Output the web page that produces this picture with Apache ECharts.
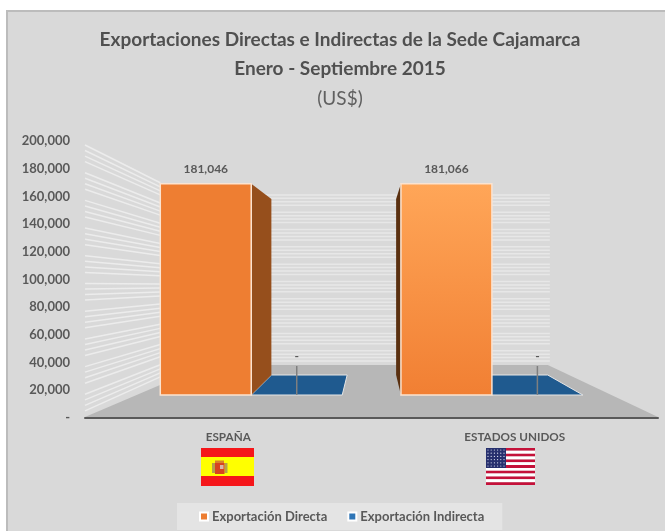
<!DOCTYPE html>
<html>
<head>
<meta charset="utf-8">
<title>Exportaciones Cajamarca</title>
<style>
	html, body { margin: 0; padding: 0; background: #fff; }
	#main { width: 665px; height: 531px; }
</style>
<script src="https://cdn.jsdelivr.net/npm/echarts@6/dist/echarts.min.js"></script>
</head>
<body>
<div id="main"></div>
<script>
var categories = ['ESPAÑA', 'ESTADOS UNIDOS'];
var directa = [181046, 181066];
var indirecta = [0, 0];
var yTicks = [0, 20000, 40000, 60000, 80000, 100000, 120000, 140000, 160000, 180000, 200000];
var wallTicks = [
	200000, 196000, 192000, 188000, 180000, 176000, 172000, 168000,
	160000, 156000, 152000, 148000, 140000, 136000, 132000, 128000,
	120000, 116000, 112000, 108000, 100000, 96000, 92000, 88000,
	80000, 76000, 72000, 68000, 60000, 56000, 52000, 48000,
	40000, 36000, 32000, 28000, 20000, 16000, 12000, 8000
];

var font = 'Lato';
var textColor = '#595959';
var gridBottom = 418;

// planos de profundidad del falso 3D
var barFront = { vx: 372, fx: 0.84, floorY: 395, fy: 0.842 };
var barBack = { vx: 372, fx: 0.70, floorY: 375, fy: 0.702 };
var wallEdge = { vx: 386, fx: 0.75, floorY: 385, fy: 0.73 };
var wallBack = { vx: 386, fx: 0.595, floorY: 368, fy: 0.625 };

function project(p, d) {
	return [d.vx + (p[0] - d.vx) * d.fx, d.floorY - (gridBottom - p[1]) * d.fy];
}

function face(points, style) {
	return { type: 'polygon', shape: { points: points }, style: style };
}

// barra 3D, se dibujan primero las caras laterales
function barRender(slot, sty) {
	return function(params, api) {
		var band = api.size([1, 0])[0];
		var c = api.coord([api.value(0), api.value(1)]);
		var w = band * 0.378;
		var left = c[0] + slot * w;
		var tl = [left, c[1]], tr = [left + w, c[1]];
		var bl = [left, gridBottom], br = [left + w, gridBottom];
		var ftl = project(tl, barFront), ftr = project(tr, barFront);
		var fbl = project(bl, barFront), fbr = project(br, barFront);
		var btl = project(tl, barBack), btr = project(tr, barBack);
		var bbl = project(bl, barBack), bbr = project(br, barBack);
		var idx = params.dataIndex;
		var kids = [];
		if (btr[0] > ftr[0]) {
			kids.push(face([ftr, btr, bbr, fbr], { fill: sty.right }));
		}
		if (btl[0] < ftl[0]) {
			kids.push(face([ftl, btl, bbl, fbl], { fill: sty.left }));
		}
		if (btl[1] < ftl[1]) {
			kids.push(face([ftl, ftr, btr, btl], { fill: sty.top, stroke: sty.edge, lineWidth: 1 }));
		}
		if (fbl[1] > ftl[1]) {
			kids.push({
				type: 'rect',
				shape: { x: ftl[0], y: ftl[1], width: ftr[0] - ftl[0], height: fbl[1] - ftl[1] },
				style: { fill: sty.front[idx], stroke: sty.edge, lineWidth: 1.5 }
			});
		}
		var cx = (ftl[0] + ftr[0]) / 2;
		var val = api.value(1);
		var ly = val === 0 ? ftl[1] - 39 : ftl[1] - 15;
		if (val === 0) {
			kids.push({
				type: 'line',
				shape: { x1: cx, y1: ftl[1] - 29, x2: cx, y2: ftl[1] },
				style: { stroke: '#7f7f7f', lineWidth: 1.5 }
			});
		}
		kids.push({
			type: 'text',
			style: {
				x: cx, y: ly,
				text: val === 0 ? '-' : val.toLocaleString('en-US'),
				fill: textColor,
				font: 'bold 12px ' + font,
				align: 'center',
				verticalAlign: 'middle'
			}
		});
		return { type: 'group', children: kids };
	};
}

function wallRender(params, api) {
	var rect = params.coordSys;
	var y = api.coord([0, api.value(1)])[1];
	var a = [rect.x, y + 4];
	var b = project([rect.x, y], wallEdge);
	var c = project([rect.x, y], wallBack);
	var d = project([rect.x + rect.width, y], wallBack);
	return {
		type: 'group',
		children: [
			{ type: 'line', shape: { x1: a[0], y1: a[1], x2: b[0], y2: b[1] }, style: { stroke: '#ececec', lineWidth: 1.5 } },
			{ type: 'line', shape: { x1: c[0], y1: c[1], x2: d[0] + 2, y2: d[1] }, style: { stroke: '#e7e7e7', lineWidth: 1.5 } }
		]
	};
}

function floorRender(params, api) {
	var rect = params.coordSys;
	var l = rect.x, r = rect.x + rect.width;
	var p1 = project([l, gridBottom], wallBack);
	var p2 = project([r, gridBottom], wallBack);
	return face([[l, gridBottom - 1], [r, gridBottom - 1], [p2[0], p2[1] - 3], [p1[0], p1[1] - 3]], { fill: '#b7b7b7' });
}

// banderas
function spainFlag() {
	var out = [
		{ type: 'rect', shape: { x: 201, y: 448, width: 53, height: 38 }, style: { fill: '#f5161a' } },
		{ type: 'rect', shape: { x: 201, y: 457, width: 53, height: 19 }, style: { fill: '#ffff00' } },
		{ type: 'rect', shape: { x: 212, y: 463, width: 3, height: 10 }, style: { fill: '#b5a24a' } },
		{ type: 'rect', shape: { x: 224.5, y: 463, width: 3, height: 10 }, style: { fill: '#b5a24a' } },
		{ type: 'rect', shape: { x: 215, y: 460.5, width: 9, height: 2.5 }, style: { fill: '#d9822b' } },
		{ type: 'rect', shape: { x: 215, y: 463, width: 9.5, height: 11 }, style: { fill: '#d8431f', borderRadius: [0, 0, 4, 4] } },
		{ type: 'rect', shape: { x: 220, y: 465, width: 3.5, height: 4 }, style: { fill: '#d9b7a8' } }
	];
	return out;
}

function usaFlag() {
	var out = [];
	var sh = 37 / 13;
	for (var i = 0; i < 13; i++) {
		out.push({
			type: 'rect',
			shape: { x: 486, y: 448 + i * sh, width: 49, height: sh },
			style: { fill: i % 2 === 0 ? '#c4123a' : '#ffffff' }
		});
	}
	out.push({ type: 'rect', shape: { x: 486, y: 448, width: 20, height: 20 }, style: { fill: '#27306e' } });
	for (var r = 0; r < 6; r++) {
		for (var c = 0; c < 6; c++) {
			out.push({
				type: 'circle',
				shape: { cx: 488 + c * 3.2, cy: 450 + r * 3.2, r: 0.6 },
				style: { fill: '#dfe3f2' }
			});
		}
	}
	return out;
}

var myChart = echarts.init(document.getElementById('main'));

var option = {
	animation: false,
	backgroundColor: '#ffffff',
	textStyle: { fontFamily: font },
	title: [
		{ text: 'Exportaciones Directas e Indirectas de la Sede Cajamarca', left: 335, top: 35, textAlign: 'center', textVerticalAlign: 'middle', textStyle: { fontFamily: font, fontSize: 19, fontWeight: 'bold', color: '#505050' } },
		{ text: 'Enero - Septiembre 2015', left: 335, top: 64, textAlign: 'center', textVerticalAlign: 'middle', textStyle: { fontFamily: font, fontSize: 19, fontWeight: 'bold', color: '#505050' } },
		{ text: '(US$)', left: 335, top: 94, textAlign: 'center', textVerticalAlign: 'middle', textStyle: { fontFamily: font, fontSize: 19, fontWeight: 'normal', color: '#606060' } }
	],
	legend: {
		left: 177,
		top: 503,
		padding: [7, 18, 7, 22],
		backgroundColor: '#e4e4e4',
		itemWidth: 8,
		itemHeight: 8,
		itemGap: 20,
		icon: 'rect',
		data: ['Exportación Directa', 'Exportación Indirecta'],
		textStyle: { fontFamily: font, fontSize: 13, fontWeight: 'bold', color: textColor, padding: [0, 0, 0, -1] }
	},
	grid: { left: 85, right: 7, top: 141, height: 277 },
	xAxis: {
		type: 'category',
		data: categories,
		axisLine: { lineStyle: { color: '#595959', width: 2 } },
		axisTick: { show: false },
		axisLabel: { margin: 13, color: textColor, fontFamily: font, fontWeight: 'bold', fontSize: 11.7 }
	},
	yAxis: {
		type: 'value',
		min: yTicks[0],
		max: yTicks[yTicks.length - 1],
		interval: yTicks[1] - yTicks[0],
		axisLine: { show: false },
		axisTick: { show: false },
		splitLine: { show: false },
		axisLabel: {
			margin: 15,
			color: textColor,
			fontFamily: font,
			fontWeight: 'bold',
			fontSize: 13,
			formatter: function(v) {
				return v === 0 ? '-' : v.toLocaleString('en-US');
			}
		}
	},
	graphic: {
		elements: [
			{ type: 'rect', z: -10, silent: true, shape: { x: 7, y: 11, width: 660, height: 522 }, style: { fill: '#d9d9d9', stroke: '#bcbcbc', lineWidth: 2 } }
		].concat(spainFlag(), usaFlag())
	},
	series: [
		{
			type: 'custom',
			renderItem: wallRender,
			silent: true,
			encode: { x: 0, y: 1 },
			data: wallTicks.map(function(v) { return [0, v]; })
		},
		{
			type: 'custom',
			renderItem: floorRender,
			silent: true,
			encode: { x: 0, y: 1 },
			data: [[0, 0]]
		},
		{
			name: 'Exportación Indirecta',
			type: 'custom',
			itemStyle: { color: '#2e75b6', borderColor: '#fff', borderWidth: 1 },
			encode: { x: 0, y: 1 },
			renderItem: barRender(0, { front: ['#1f5a8f', '#1f5a8f'], right: '#1f5a8f', left: '#1f5a8f', top: '#1f5a8f', edge: '#e6e6e6' }),
			data: indirecta.map(function(v, i) { return [i, v]; })
		},
		{
			name: 'Exportación Directa',
			type: 'custom',
			itemStyle: { color: '#ed7d31', borderColor: '#fff', borderWidth: 1 },
			encode: { x: 0, y: 1 },
			renderItem: barRender(-1, {
				front: ['#ee7e32', new echarts.graphic.LinearGradient(0, 0, 0, 1, [
					{ offset: 0, color: '#ffa658' },
					{ offset: 1, color: '#f17f33' }
				])],
				right: '#964f1c',
				left: '#5a3010',
				top: '#b36a33',
				edge: '#fbe3d0'
			}),
			data: directa.map(function(v, i) { return [i, v]; })
		}
	]
};

myChart.setOption(option);
</script>
</body>
</html>
